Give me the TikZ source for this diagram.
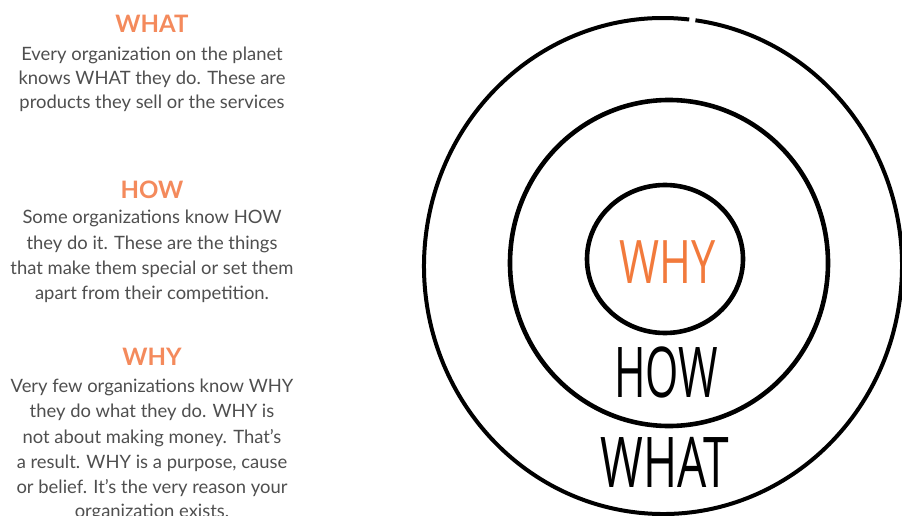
\documentclass[tikz,border=0pt]{standalone}
\usepackage{fontspec}
\newfontfamily\bodyfont{Lato}
\newfontfamily\handfont{Open Sans}
\definecolor{titleorange}{HTML}{F48A5C}
\definecolor{whyorange}{HTML}{F27A3C}
\definecolor{bodygrey}{HTML}{4F4F4F}
\tikzset{
  title/.style={anchor=base, inner sep=0pt, text=titleorange, font=\bodyfont\bfseries\fontsize{24}{24}\selectfont},
  body/.style={anchor=base, inner sep=0pt, text=bodygrey, font=\bodyfont\fontsize{18.4}{18.4}\selectfont},
  ring/.style={draw=black, line width=4.6pt},
  hand/.style={inner sep=0pt, font=\handfont\fontsize{60}{60}\selectfont}
}
\begin{document}
\begin{tikzpicture}[x=1pt,y=-1pt]
\useasboundingbox[fill=white] (0,0) rectangle (902,516);
% left column
\node[title] (t1) at (152,33) {WHAT};
\node[body] (a1) at (152,61) {Every organization on the planet};
\node[body] (a2) at (152,85) {knows WHAT they do. These are};
\node[body] (a3) at (152,109) {products they sell or the services};
\node[title] (t2) at (152,198) {HOW};
\node[body] (b1) at (152,223) {Some organizations know HOW};
\node[body] (b2) at (152,249) {they do it. These are the things};
\node[body] (b3) at (152,274) {that make them special or set them};
\node[body] (b4) at (152,299) {apart from their competition.};
\node[title] (t3) at (152,365) {WHY};
\node[body] (c1) at (152,392) {Very few organizations know WHY};
\node[body] (c2) at (152,417) {they do what they do. WHY is};
\node[body] (c3) at (152,443) {not about making money. That’s};
\node[body] (c4) at (152,468) {a result. WHY is a purpose, cause};
\node[body] (c5) at (152,493) {or belief. It’s the very reason your};
\node[body] (c6) at (152,517) {organization exists.};
% rings
\draw[ring, line width=4pt] (663,266) ++(-82.2:239 and 248) arc[start angle=-82.2, end angle=276.3, x radius=239, y radius=248];
\draw[ring] (669,263) ellipse[x radius=159, y radius=163];
\draw[ring] (665,259) ellipse[x radius=78, y radius=74];
% hand labels
\node[hand, text=whyorange] (why) at (668,262) {\scalebox{0.72}[1]{WHY}};
\node[hand, font=\handfont\fontsize{70}{70}\selectfont] (how) at (666,372) {\scalebox{0.61}[1]{HOW}};
\node[hand, font=\handfont\fontsize{70}{70}\selectfont] (what) at (665,462) {\scalebox{0.66}[1]{WHAT}};
\end{tikzpicture}
\end{document}
